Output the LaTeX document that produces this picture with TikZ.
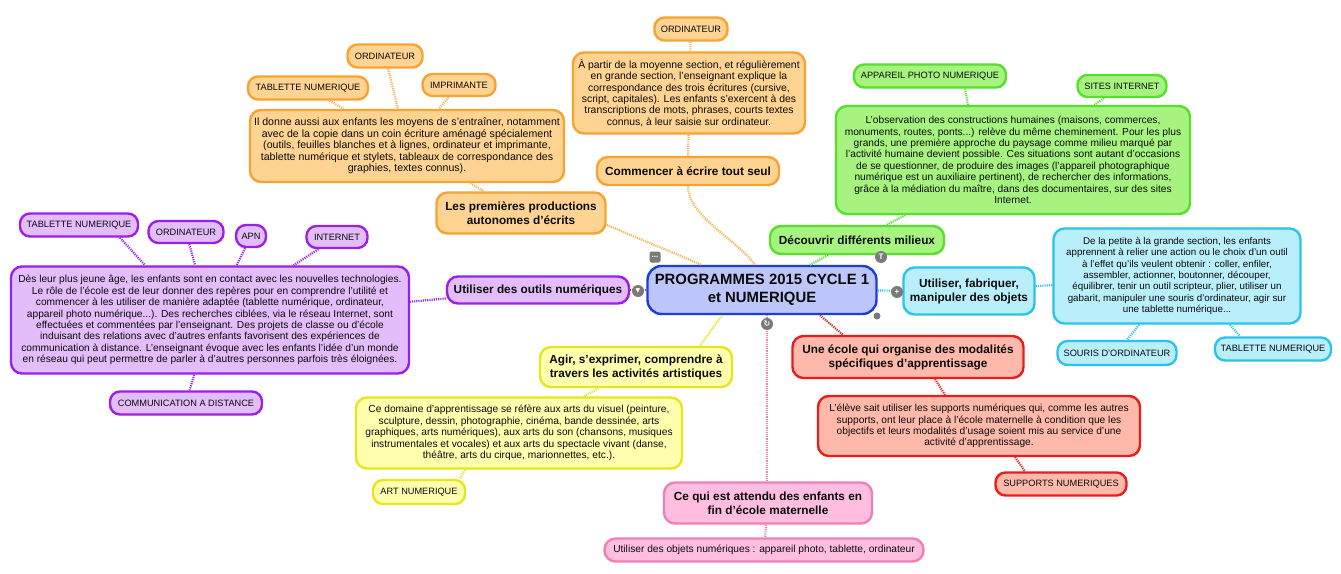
\documentclass[tikz,border=0pt]{standalone}
\usepackage{fontspec}
\setmainfont{Liberation Sans}
\newfontfamily\symfont{DejaVu Sans}
\usepackage{tikz}
\usepackage{xcolor}
\usetikzlibrary{positioning}
\definecolor{MapOrange}{HTML}{FFD391}
\definecolor{MapOrangeD}{HTML}{F5A332}
\definecolor{MapGreen}{HTML}{A6F47F}
\definecolor{MapGreenD}{HTML}{55E02B}
\definecolor{MapCyan}{HTML}{B9EEFB}
\definecolor{MapCyanD}{HTML}{2BC3EC}
\definecolor{MapRed}{HTML}{FFB9AB}
\definecolor{MapRedD}{HTML}{EA1C1C}
\definecolor{MapPurple}{HTML}{E2BDF9}
\definecolor{MapPurpleD}{HTML}{9A20E8}
\definecolor{MapYellow}{HTML}{FFFFAD}
\definecolor{MapYellowD}{HTML}{E6E61E}
\definecolor{MapPink}{HTML}{FFBDE0}
\definecolor{MapPinkD}{HTML}{EE80B4}
\definecolor{MapBlue}{HTML}{BCC6FA}
\definecolor{MapBlueD}{HTML}{1C3CDB}
\definecolor{MapGray}{HTML}{7A7A7A}
\definecolor{MapText}{HTML}{0A0A0A}

\begin{document}
\begin{tikzpicture}[x=1pt, y=-1pt,
    box/.style={rounded corners=11pt, line width=2.4pt, align=center,
                inner sep=2pt, text=MapText,
                font=\fontsize{10.2}{11.4}\selectfont},
    branch/.style={box, font=\bfseries\fontsize{11.8}{14}\selectfont},
    leaf/.style={box, rounded corners=10pt, font=\fontsize{9.2}{10}\selectfont},
    central/.style={box, rounded corners=14pt, draw=MapBlueD, fill=MapBlue,
                font=\bfseries\fontsize{14.9}{18}\selectfont},
    orangebox/.style={draw=MapOrangeD, fill=MapOrange},
    greenbox/.style={draw=MapGreenD, fill=MapGreen},
    cyanbox/.style={draw=MapCyanD, fill=MapCyan},
    redbox/.style={draw=MapRedD, fill=MapRed},
    purplebox/.style={draw=MapPurpleD, fill=MapPurple},
    yellowbox/.style={draw=MapYellowD, fill=MapYellow},
    pinkbox/.style={draw=MapPinkD, fill=MapPink},
    link/.style={line width=2.2pt, dash pattern=on 1.1pt off 1.1pt},
    icon/.style={circle, fill=MapGray, minimum size=12pt, inner sep=0pt,
                text=white, font=\bfseries\fontsize{8}{8}\selectfont}
]
\fill[white] (0,0) rectangle (1341,573);
\useasboundingbox (0,0) rectangle (1341,573);

% centre
\node[central, minimum width=229pt, minimum height=48pt] (prog) at (762,290)
    {PROGRAMMES 2015 CYCLE 1\\et NUMERIQUE};

% premieres productions (orange)
\node[branch, orangebox, minimum width=169pt, minimum height=41pt] (prod) at (521,213)
    {Les premières productions\\autonomes d'écrits};
\node[box, orangebox, minimum width=314pt, minimum height=72pt,
      font=\fontsize{10.6}{11.4}\selectfont] (prodnote) at (407,146)
    {Il donne aussi aux enfants les moyens de s'entraîner, notamment\\
     avec de la copie dans un coin écriture aménagé spécialement\\
     (outils, feuilles blanches et à lignes, ordinateur et imprimante,\\
     tablette numérique et stylets, tableaux de correspondance des\\
     graphies, textes connus).};
\node[leaf, orangebox, minimum width=120pt, minimum height=23pt] (prodtab) at (308,88) {TABLETTE NUMERIQUE};
\node[leaf, orangebox, minimum width=75pt, minimum height=23pt] (prodord) at (385,56) {ORDINATEUR};
\node[leaf, orangebox, minimum width=73pt, minimum height=22pt] (prodimp) at (459,85) {IMPRIMANTE};

% commencer a ecrire (orange)
\node[branch, orangebox, minimum width=182pt, minimum height=28pt] (comm) at (688,171)
    {Commencer à écrire tout seul};
\node[box, orangebox, minimum width=232pt, minimum height=81pt,
      font=\fontsize{10.4}{11.4}\selectfont] (commnote) at (689,93)
    {À partir de la moyenne section, et régulièrement\\
     en grande section, l'enseignant explique la\\
     correspondance des trois écritures (cursive,\\
     script, capitales). Les enfants s'exercent à des\\
     transcriptions de mots, phrases, courts textes\\
     connus, à leur saisie sur ordinateur.};
\node[leaf, orangebox, minimum width=73pt, minimum height=23pt] (commord) at (691,29) {ORDINATEUR};

% milieux (green)
\node[branch, greenbox, minimum width=174pt, minimum height=28pt] (mil) at (857,240)
    {Découvrir différents milieux};
\node[box, greenbox, minimum width=354pt, minimum height=108pt] (milnote) at (1013,160)
    {L'observation des constructions humaines (maisons, commerces,\\
     monuments, routes, ponts...) relève du même cheminement. Pour les plus\\
     grands, une première approche du paysage comme milieu marqué par\\
     l'activité humaine devient possible. Ces situations sont autant d'occasions\\
     de se questionner, de produire des images (l'appareil photographique\\
     numérique est un auxiliaire pertinent), de rechercher des informations,\\
     grâce à la médiation du maître, dans des documentaires, sur des sites\\
     Internet.};
\node[leaf, greenbox, minimum width=152pt, minimum height=23pt] (milapn) at (930,76) {APPAREIL PHOTO NUMERIQUE};
\node[leaf, greenbox, minimum width=89pt, minimum height=22pt] (milsites) at (1122,86) {SITES INTERNET};

% objets (cyan)
\node[branch, cyanbox, minimum width=131pt, minimum height=47pt] (obj) at (969,291)
    {Utiliser, fabriquer,\\manipuler des objets};
\node[box, cyanbox, minimum width=247pt, minimum height=95pt,
      font=\fontsize{9.8}{11.4}\selectfont] (objnote) at (1177,276)
    {De la petite à la grande section, les enfants\\
     apprennent à relier une action ou le choix d'un outil\\
     à l'effet qu'ils veulent obtenir : coller, enfiler,\\
     assembler, actionner, boutonner, découper,\\
     équilibrer, tenir un outil scripteur, plier, utiliser un\\
     gabarit, manipuler une souris d'ordinateur, agir sur\\
     une tablette numérique...};
\node[leaf, cyanbox, minimum width=119pt, minimum height=24pt] (objsouris) at (1117,353) {SOURIS D'ORDINATEUR};
\node[leaf, cyanbox, minimum width=116pt, minimum height=23pt] (objtab) at (1273,349) {TABLETTE NUMERIQUE};

% ecole (red)
\node[branch, redbox, minimum width=231pt, minimum height=42pt] (eco) at (908,357)
    {Une école qui organise des modalités\\spécifiques d'apprentissage};
\node[box, redbox, minimum width=322pt, minimum height=60pt] (econote) at (979,426)
    {L'élève sait utiliser les supports numériques qui, comme les autres\\
     supports, ont leur place à l'école maternelle à condition que les\\
     objectifs et leurs modalités d'usage soient mis au service d'une\\
     activité d'apprentissage.};
\node[leaf, redbox, minimum width=131pt, minimum height=23pt] (ecosup) at (1061,484) {SUPPORTS NUMERIQUES};

% outils (purple)
\node[branch, purplebox, minimum width=182pt, minimum height=27pt] (out) at (538,290)
    {Utiliser des outils numériques};
\node[box, purplebox, minimum width=398pt, minimum height=107pt] (outnote) at (210,320)
    {Dès leur plus jeune âge, les enfants sont en contact avec les nouvelles technologies.\\
     Le rôle de l'école est de leur donner des repères pour en comprendre l'utilité et\\
     commencer à les utiliser de manière adaptée (tablette numérique, ordinateur,\\
     appareil photo numérique...). Des recherches ciblées, via le réseau Internet, sont\\
     effectuées et commentées par l'enseignant. Des projets de classe ou d'école\\
     induisant des relations avec d'autres enfants favorisent des expériences de\\
     communication à distance. L'enseignant évoque avec les enfants l'idée d'un monde\\
     en réseau qui peut permettre de parler à d'autres personnes parfois très éloignées.};
\node[leaf, purplebox, minimum width=118pt, minimum height=23pt] (outtab) at (79,225) {TABLETTE NUMERIQUE};
\node[leaf, purplebox, minimum width=75pt, minimum height=22pt] (outord) at (186,232) {ORDINATEUR};
\node[leaf, purplebox, minimum width=30pt, minimum height=22pt, inner sep=1pt] (outapn) at (251,236) {APN};
\node[leaf, purplebox, minimum width=61pt, minimum height=22pt] (outint) at (337,237) {INTERNET};
\node[leaf, purplebox, minimum width=152pt, minimum height=23pt] (outcom) at (186,403) {COMMUNICATION A DISTANCE};

% arts (yellow)
\node[branch, yellowbox, minimum width=192pt, minimum height=40pt] (agir) at (636,367)
    {Agir, s'exprimer, comprendre à\\travers les activités artistiques};
\node[box, yellowbox, minimum width=326pt, minimum height=71pt] (agirnote) at (519,433)
    {Ce domaine d'apprentissage se réfère aux arts du visuel (peinture,\\
     sculpture, dessin, photographie, cinéma, bande dessinée, arts\\
     graphiques, arts numériques), aux arts du son (chansons, musiques\\
     instrumentales et vocales) et aux arts du spectacle vivant (danse,\\
     théâtre, arts du cirque, marionnettes, etc.).};
\node[leaf, yellowbox, minimum width=92pt, minimum height=24pt] (agirart) at (419,492) {ART NUMERIQUE};

% attendus (pink)
\node[branch, pinkbox, minimum width=208pt, minimum height=41pt] (att) at (768,503)
    {Ce qui est attendu des enfants en\\fin d'école maternelle};
\node[box, pinkbox, minimum width=319pt, minimum height=23pt] (attobj) at (764,550)
    {Utiliser des objets numériques : appareil photo, tablette, ordinateur};

% liens
\draw[link, MapOrangeD!85] (prodtab) -- (prodnote);
\draw[link, MapOrangeD!85] (prodord) -- (prodnote);
\draw[link, MapOrangeD!85] (prodimp) -- (prodnote);
\draw[link, MapOrangeD!85] (prodnote) -- (prod);
\draw[link, MapOrangeD!85] ([yshift=-12pt]prod.east) -- (prog);
\draw[link, MapOrangeD!85] (commord) -- (commnote);
\draw[link, MapOrangeD!85] (commnote) -- (comm);
\draw[link, MapOrangeD!85] (comm.south) .. controls ([yshift=-30pt]comm.south)
    and ([xshift=-25pt,yshift=25pt]prog.north) .. ([xshift=-7pt]prog.north);

\draw[link, MapGreenD] ([xshift=35pt]milapn.south) -- ([xshift=-45pt]milnote.north);
\draw[link, MapGreenD] (milsites) -- (milnote);
\draw[link, MapGreenD] (milnote) -- (mil);
\draw[link, MapGreenD] (mil) -- (prog);

\draw[link, MapCyanD] (prog) -- (obj);
\draw[link, MapCyanD] (obj) -- (objnote);
\draw[link, MapCyanD] (objnote) -- (objsouris);
\draw[link, MapCyanD] ([xshift=53pt]objnote.south) -- ([xshift=-33pt]objtab.north);

\draw[link, MapRedD] ([xshift=58pt]prog.south) -- ([xshift=-65pt]eco.north);
\draw[link, MapRedD] ([xshift=27pt]eco.south) -- ([xshift=-34pt]econote.north);
\draw[link, MapRedD] ([xshift=36pt]econote.south) -- ([xshift=-36pt]ecosup.north);

\draw[link, MapPurpleD] (prog) -- (out);
\draw[link, MapPurpleD] (out) -- (outnote);
\draw[link, MapPurpleD] ([xshift=41pt]outtab.south) -- ([xshift=-65pt]outnote.north);
\draw[link, MapPurpleD] (outord) -- (outnote);
\draw[link, MapPurpleD] (outapn) -- (outnote);
\draw[link, MapPurpleD] (outint) -- (outnote);
\draw[link, MapPurpleD] (outnote) -- (outcom);

\draw[link, MapYellowD] ([xshift=-40pt]prog.south) -- ([xshift=64pt]agir.north);
\draw[link, MapYellowD] (agir) -- (agirnote);
\draw[link, MapYellowD] ([xshift=-54pt]agirnote.south) -- ([xshift=41pt]agirart.north);

\draw[link, MapPinkD] ([xshift=5pt]prog.south) -- ([xshift=-1pt]att.north);
\draw[link, MapPinkD] (att) -- (attobj);

% petites icones
\node[icon, rectangle, rounded corners=2pt, minimum size=11pt] (icmore) at (655,257) {\raisebox{1pt}{...}};
\node[icon] (icfold) at (638,291) {\fontsize{6}{6}\selectfont\symfont ▼};
\node[icon] (ictext) at (881,257) {T};
\node[icon] (icplus) at (897,292) {+};
\node[icon] (icturn) at (767,324) {\fontsize{8}{8}\selectfont\symfont ↻};
\node[icon, minimum size=7pt] (ichandle) at (877,316) {};
\end{tikzpicture}
\end{document}
